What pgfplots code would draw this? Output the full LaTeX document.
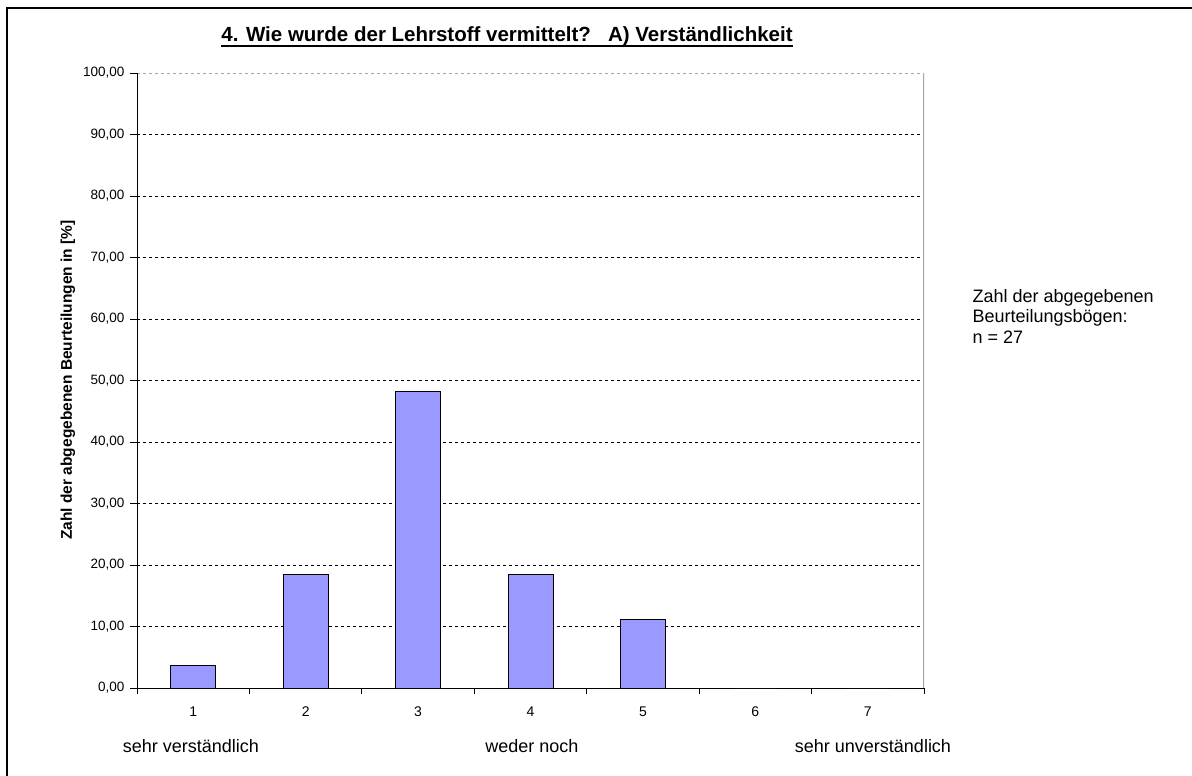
\documentclass[border=0pt]{standalone}
\usepackage{fontspec}
\setmainfont{Liberation Sans}
\usepackage{pgfplots}
\pgfplotsset{compat=1.18}
\definecolor{barblue}{HTML}{9999FF}
\begin{document}
\begin{tikzpicture}[x=1pt,y=1pt]
\useasboundingbox (0,0) rectangle (1192,-776);
\fill[white] (0,0) rectangle (1192,-776);
\draw[line width=2.5pt] (7,-777) -- (7,-8) -- (1193,-8);
\node[font=\fontsize{20.5}{23}\selectfont\bfseries, inner sep=0pt, anchor=base] (t) at (507,-42) {4. Wie wurde der Lehrstoff vermittelt?\ \ \ A) Verständlichkeit};
\draw[line width=2.2pt] ([yshift=-4pt]t.base west) -- ([yshift=-4pt]t.base east);
\node[font=\fontsize{15.5}{17}\selectfont\bfseries, rotate=90] at (68,-380) {Zahl der abgegebenen Beurteilungen in [\%]};
\node[font=\fontsize{18}{21}\selectfont, anchor=base] at (191,-752) {sehr verständlich};
\node[font=\fontsize{18}{21}\selectfont, anchor=base] at (532,-752) {weder noch};
\node[font=\fontsize{18}{21}\selectfont, anchor=base] at (873,-752) {sehr unverständlich};
\node[font=\fontsize{18}{20.5}\selectfont, anchor=base west, align=left] at (969,-343) {Zahl der abgegebenen\\Beurteilungsbögen:\\n = 27};
\begin{axis}[
  at={(137pt,-688pt)}, anchor=south west,
  scale only axis, width=787pt, height=615pt,
  xmin=0.5, xmax=7.5, ymin=0, ymax=100,
  axis x line*=bottom, axis y line*=left,
  axis line style={-, black, line width=1pt},
  xtick={1,...,7},
  xticklabels={1,2,3,4,5,6,7},
  minor xtick={0.5,1.5,...,7.5},
  major x tick style={draw=none},
  minor x tick style={black, line width=1pt},
  minor tick length=6pt,
  ytick={0,10,...,100},
  major y tick style={black, line width=1pt},
  major tick length=7pt,
  tick align=outside,
  ymajorgrids,
  grid style={black, dashed, line width=0.6pt},
  yticklabel style={font=\fontsize{13.5}{15}\selectfont, xshift=-2pt,
    /pgf/number format/.cd, fixed, fixed zerofill, precision=2, use comma, assume math mode=true},
  xticklabel style={font=\fontsize{14}{16}\selectfont, yshift=-8pt},
]
\addplot[ybar, bar width=45pt, fill=barblue, draw=black, line width=1pt] coordinates {
 (1,3.70) (2,18.52) (3,48.15) (4,18.52) (5,11.11) (6,0) (7,0)
};
\draw[gray!70, line width=1.5pt, dashed] (axis cs:0.5,100) -- (axis cs:7.5,100);
\draw[gray!70, line width=1.5pt] (axis cs:7.5,0) -- (axis cs:7.5,100);
\draw[black, line width=1pt] (axis cs:0.5,0) -- (axis cs:0.5,100);
\end{axis}
\end{tikzpicture}
\end{document}
